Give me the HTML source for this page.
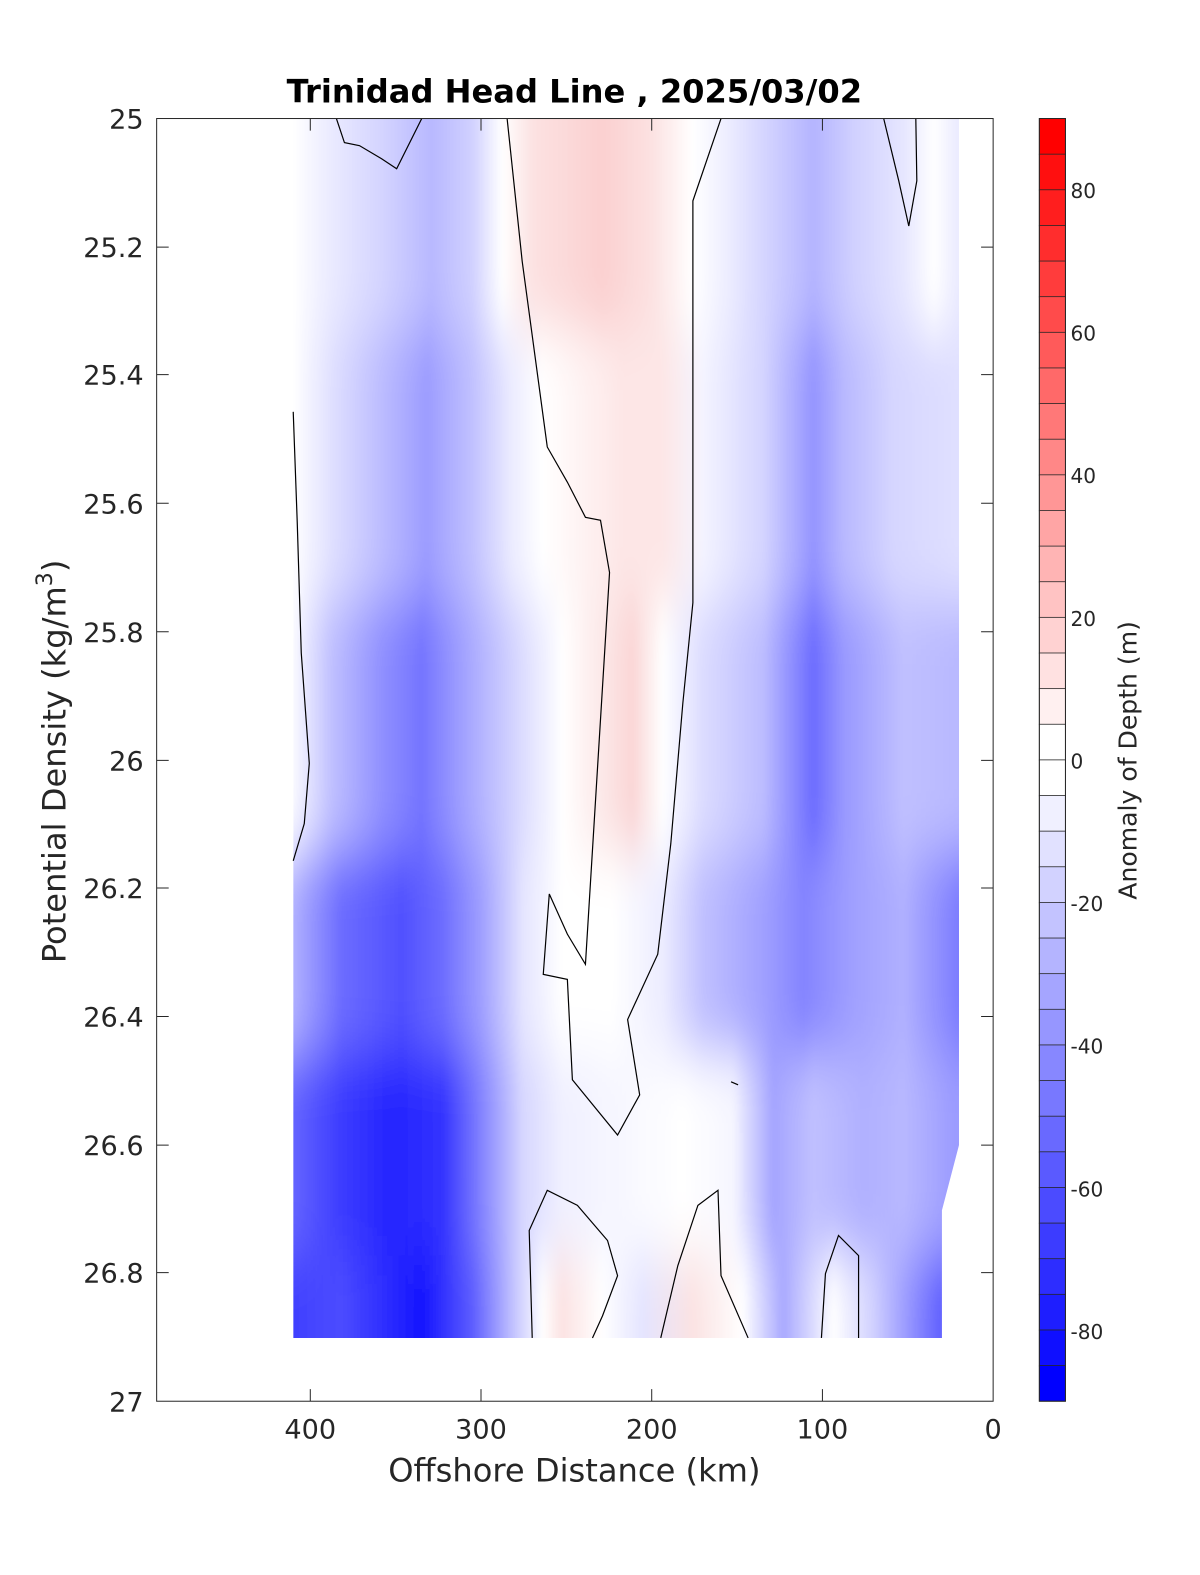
<!DOCTYPE html>
<html><head><meta charset="utf-8"><style>
html,body{margin:0;padding:0;background:#fff;overflow:hidden;width:1200px;height:1575px;}
#w{position:absolute;left:0;top:0;width:1200px;height:1575px;overflow:hidden;}
svg{display:block;position:absolute;left:0;top:0;overflow:hidden;}
svg text{font-family:"DejaVu Sans","Liberation Sans",sans-serif;fill:#262626;}
</style></head><body><div id="w">
<svg width="1200" height="1575" viewBox="0 0 1195 1568" preserveAspectRatio="none" xmlns="http://www.w3.org/2000/svg">
<defs>
<filter id="vb" x="-5%" y="-20%" width="110%" height="140%"><feGaussianBlur stdDeviation="3 30"/></filter>
<clipPath id="dc"><polygon points="292,118 955,118 955,1140 938,1205 938,1332 292,1332"/></clipPath>
<linearGradient id="gA" gradientUnits="userSpaceOnUse" x1="0" x2="1000" y1="0" y2="0">
<stop offset=".292" stop-color="#fff"/><stop offset=".33" stop-color="#eaeaff"/><stop offset=".38" stop-color="#d4d4ff"/><stop offset=".43" stop-color="#b8b8ff"/><stop offset=".47" stop-color="#d0d0ff"/><stop offset=".5" stop-color="#fff"/><stop offset=".53" stop-color="#fce2e2"/><stop offset=".6" stop-color="#fbd0d0"/><stop offset=".65" stop-color="#fce2e2"/><stop offset=".69" stop-color="#fff"/><stop offset=".72" stop-color="#f0f0ff"/><stop offset=".78" stop-color="#c8c8ff"/><stop offset=".81" stop-color="#b4b4ff"/><stop offset=".85" stop-color="#d0d0ff"/><stop offset=".9" stop-color="#e6e6ff"/><stop offset=".93" stop-color="#fff"/><stop offset=".955" stop-color="#eaeaff"/></linearGradient>
<linearGradient id="gB" gradientUnits="userSpaceOnUse" x1="0" x2="1000" y1="0" y2="0">
<stop offset=".292" stop-color="#fff"/><stop offset=".33" stop-color="#e0e0ff"/><stop offset=".38" stop-color="#bcbcff"/><stop offset=".425" stop-color="#9c9cff"/><stop offset=".47" stop-color="#c0c0ff"/><stop offset=".51" stop-color="#ececff"/><stop offset=".54" stop-color="#fff"/><stop offset=".62" stop-color="#fde6e6"/><stop offset=".66" stop-color="#fde6e6"/><stop offset=".7" stop-color="#f4f4ff"/><stop offset=".76" stop-color="#d4d4ff"/><stop offset=".81" stop-color="#9494ff"/><stop offset=".84" stop-color="#b8b8ff"/><stop offset=".89" stop-color="#d6d6ff"/><stop offset=".955" stop-color="#e0e0ff"/></linearGradient>
<linearGradient id="gC" gradientUnits="userSpaceOnUse" x1="0" x2="1000" y1="0" y2="0">
<stop offset=".292" stop-color="#fafaff"/><stop offset=".33" stop-color="#c0c0ff"/><stop offset=".38" stop-color="#9090ff"/><stop offset=".42" stop-color="#7474ff"/><stop offset=".46" stop-color="#a0a0ff"/><stop offset=".52" stop-color="#dcdcff"/><stop offset=".56" stop-color="#fff"/><stop offset=".63" stop-color="#fad6d6"/><stop offset=".66" stop-color="#fff"/><stop offset=".7" stop-color="#dcdcff"/><stop offset=".76" stop-color="#bcbcff"/><stop offset=".81" stop-color="#6c6cff"/><stop offset=".84" stop-color="#9898ff"/><stop offset=".9" stop-color="#c0c0ff"/><stop offset=".955" stop-color="#b8b8ff"/></linearGradient>
<linearGradient id="gD" gradientUnits="userSpaceOnUse" x1="0" x2="1000" y1="0" y2="0">
<stop offset=".292" stop-color="#b0b0ff"/><stop offset=".34" stop-color="#6c6cff"/><stop offset=".4" stop-color="#5050ff"/><stop offset=".44" stop-color="#6c6cff"/><stop offset=".48" stop-color="#a0a0ff"/><stop offset=".52" stop-color="#e4e4ff"/><stop offset=".56" stop-color="#fff"/><stop offset=".61" stop-color="#fff"/><stop offset=".66" stop-color="#ececff"/><stop offset=".7" stop-color="#c0c0ff"/><stop offset=".76" stop-color="#a0a0ff"/><stop offset=".8" stop-color="#8484ff"/><stop offset=".85" stop-color="#a0a0ff"/><stop offset=".9" stop-color="#b0b0ff"/><stop offset=".955" stop-color="#7c7cff"/></linearGradient>
<linearGradient id="gE" gradientUnits="userSpaceOnUse" x1="0" x2="1000" y1="0" y2="0">
<stop offset=".292" stop-color="#6464ff"/><stop offset=".34" stop-color="#3c3cff"/><stop offset=".39" stop-color="#2424ff"/><stop offset=".44" stop-color="#3232ff"/><stop offset=".48" stop-color="#8484ff"/><stop offset=".52" stop-color="#d6d6ff"/><stop offset=".56" stop-color="#f0f0ff"/><stop offset=".61" stop-color="#f6f6ff"/><stop offset=".68" stop-color="#fff"/><stop offset=".73" stop-color="#f6f6ff"/><stop offset=".77" stop-color="#a4a4ff"/><stop offset=".81" stop-color="#c0c0ff"/><stop offset=".86" stop-color="#b0b0ff"/><stop offset=".9" stop-color="#b8b8ff"/><stop offset=".95" stop-color="#9c9cff"/></linearGradient>
<linearGradient id="gF" gradientUnits="userSpaceOnUse" x1="0" x2="1000" y1="0" y2="0">
<stop offset=".292" stop-color="#4040ff"/><stop offset=".34" stop-color="#4c4cff"/><stop offset=".42" stop-color="#1414ff"/><stop offset=".47" stop-color="#5c5cff"/><stop offset=".51" stop-color="#c0c0ff"/><stop offset=".54" stop-color="#fff"/><stop offset=".56" stop-color="#fce2e2"/><stop offset=".6" stop-color="#fff"/><stop offset=".64" stop-color="#e4e4ff"/><stop offset=".69" stop-color="#fbe2e2"/><stop offset=".74" stop-color="#fff"/><stop offset=".78" stop-color="#a8a8ff"/><stop offset=".83" stop-color="#fff"/><stop offset=".87" stop-color="#d0d0ff"/><stop offset=".935" stop-color="#6464ff"/></linearGradient>
</defs>
<g clip-path="url(#dc)">
<g filter="url(#vb)">
<rect x="250" y="20" width="750" height="310" fill="url(#gA)"/>
<rect x="250" y="330" width="750" height="270" fill="url(#gB)"/>
<rect x="250" y="600" width="750" height="250" fill="url(#gC)"/>
<rect x="250" y="850" width="750" height="200" fill="url(#gD)"/>
<rect x="250" y="1050" width="750" height="200" fill="url(#gE)"/>
<rect x="250" y="1250" width="750" height="180" fill="url(#gF)"/>
</g>
</g>
<polygon points="250,118 292,118 292,830 250,830" fill="#fff"/>
<g fill="none" stroke="#000" stroke-width="1.2">
<polyline points="292,410 296,520 300,650 308,760 303,820 292,857"/>
<polyline points="335,118 343,142 358,145 380,158 395,168 420,118"/>
<polyline points="505,118 520,260 545,445 565,480 583,515 598,518 607,570 583,960 565,930 547,890 541,970 565,975 570,1075 615,1130 637,1090 625,1015 655,950 668,840 680,700 690,600 690,200 718,118"/>
<polyline points="880,118 895,180 905,225 913,180 912,118"/>
<polyline points="530,1332 527,1225 545,1185 575,1200 605,1235 615,1270 600,1310 590,1332"/>
<polyline points="658,1332 675,1260 695,1200 715,1185 718,1270 745,1332"/>
<polyline points="818,1332 822,1268 835,1230 855,1250 855,1332"/>
<polyline points="728,1077 735,1080"/>
</g>
<rect x="156" y="118" width="833" height="1277" fill="none" stroke="#262626" stroke-width="1"/>
<g stroke="#262626" stroke-width="1">
<path d="M156,246h12M156,373h12M156,501h12M156,629h12M156,757h12M156,884h12M156,1012h12M156,1140h12M156,1267h12"/>
<path d="M989,246h-12M989,373h-12M989,501h-12M989,629h-12M989,757h-12M989,884h-12M989,1012h-12M989,1140h-12M989,1267h-12"/>
<path d="M309,1395v-12M479,1395v-12M649,1395v-12M819,1395v-12M309,118v12M479,118v12M649,118v12M819,118v12"/>
</g>
<g font-size="27" text-anchor="end">
<text x="143" y="128">25</text><text x="143" y="256">25.2</text><text x="143" y="383">25.4</text><text x="143" y="511">25.6</text><text x="143" y="639">25.8</text><text x="143" y="767">26</text><text x="143" y="894">26.2</text><text x="143" y="1022">26.4</text><text x="143" y="1150">26.6</text><text x="143" y="1277">26.8</text><text x="143" y="1405">27</text>
</g>
<g font-size="27" text-anchor="middle">
<text x="309" y="1432">400</text><text x="479" y="1432">300</text><text x="649" y="1432">200</text><text x="819" y="1432">100</text><text x="989" y="1432">0</text>
<text x="572" y="1475" font-size="32">Offshore Distance (km)</text>
<text x="572" y="102" font-size="32" font-weight="bold" style="fill:#000">Trinidad Head Line , 2025/03/02</text>
</g>
<text transform="translate(65,758) rotate(-90)" font-size="32" text-anchor="middle">Potential Density (kg/m<tspan dy="-13" font-size="22">3</tspan><tspan dy="13">)</tspan></text>
<g stroke="#262626" stroke-width="0.8">
<rect x="1035" y="118" width="26" height="35.97" fill="rgb(255,0,0)"/>
<rect x="1035" y="153.47" width="26" height="35.97" fill="rgb(255,15,15)"/>
<rect x="1035" y="188.94" width="26" height="35.97" fill="rgb(255,30,30)"/>
<rect x="1035" y="224.42" width="26" height="35.97" fill="rgb(255,45,45)"/>
<rect x="1035" y="259.89" width="26" height="35.97" fill="rgb(255,60,60)"/>
<rect x="1035" y="295.36" width="26" height="35.97" fill="rgb(255,75,75)"/>
<rect x="1035" y="330.83" width="26" height="35.97" fill="rgb(255,90,90)"/>
<rect x="1035" y="366.31" width="26" height="35.97" fill="rgb(255,105,105)"/>
<rect x="1035" y="401.78" width="26" height="35.97" fill="rgb(255,120,120)"/>
<rect x="1035" y="437.25" width="26" height="35.97" fill="rgb(255,135,135)"/>
<rect x="1035" y="472.72" width="26" height="35.97" fill="rgb(255,150,150)"/>
<rect x="1035" y="508.19" width="26" height="35.97" fill="rgb(255,165,165)"/>
<rect x="1035" y="543.67" width="26" height="35.97" fill="rgb(255,180,180)"/>
<rect x="1035" y="579.14" width="26" height="35.97" fill="rgb(255,195,195)"/>
<rect x="1035" y="614.61" width="26" height="35.97" fill="rgb(255,210,210)"/>
<rect x="1035" y="650.08" width="26" height="35.97" fill="rgb(255,225,225)"/>
<rect x="1035" y="685.56" width="26" height="35.97" fill="rgb(255,240,240)"/>
<rect x="1035" y="721.03" width="26" height="35.97" fill="rgb(255,255,255)"/>
<rect x="1035" y="756.5" width="26" height="35.97" fill="rgb(255,255,255)"/>
<rect x="1035" y="791.97" width="26" height="35.97" fill="rgb(240,240,255)"/>
<rect x="1035" y="827.44" width="26" height="35.97" fill="rgb(225,225,255)"/>
<rect x="1035" y="862.92" width="26" height="35.97" fill="rgb(210,210,255)"/>
<rect x="1035" y="898.39" width="26" height="35.97" fill="rgb(195,195,255)"/>
<rect x="1035" y="933.86" width="26" height="35.97" fill="rgb(180,180,255)"/>
<rect x="1035" y="969.33" width="26" height="35.97" fill="rgb(165,165,255)"/>
<rect x="1035" y="1004.81" width="26" height="35.97" fill="rgb(150,150,255)"/>
<rect x="1035" y="1040.28" width="26" height="35.97" fill="rgb(135,135,255)"/>
<rect x="1035" y="1075.75" width="26" height="35.97" fill="rgb(120,120,255)"/>
<rect x="1035" y="1111.22" width="26" height="35.97" fill="rgb(105,105,255)"/>
<rect x="1035" y="1146.69" width="26" height="35.97" fill="rgb(90,90,255)"/>
<rect x="1035" y="1182.17" width="26" height="35.97" fill="rgb(75,75,255)"/>
<rect x="1035" y="1217.64" width="26" height="35.97" fill="rgb(60,60,255)"/>
<rect x="1035" y="1253.11" width="26" height="35.97" fill="rgb(45,45,255)"/>
<rect x="1035" y="1288.58" width="26" height="35.97" fill="rgb(30,30,255)"/>
<rect x="1035" y="1324.06" width="26" height="35.97" fill="rgb(15,15,255)"/>
<rect x="1035" y="1359.53" width="26" height="35.47" fill="rgb(0,0,255)"/>
</g>
<rect x="1035" y="118" width="26" height="1277" fill="none" stroke="#262626"/>
<g font-size="20">
<text x="1066" y="197">80</text><text x="1066" y="339">60</text><text x="1066" y="481">40</text><text x="1066" y="623">20</text><text x="1066" y="765">0</text><text x="1066" y="907">-20</text><text x="1066" y="1049">-40</text><text x="1066" y="1191">-60</text><text x="1066" y="1333">-80</text>
</g>
<text transform="translate(1132,757) rotate(-90)" font-size="25" text-anchor="middle">Anomaly of Depth (m)</text>
</svg>
</div>
</body></html>
